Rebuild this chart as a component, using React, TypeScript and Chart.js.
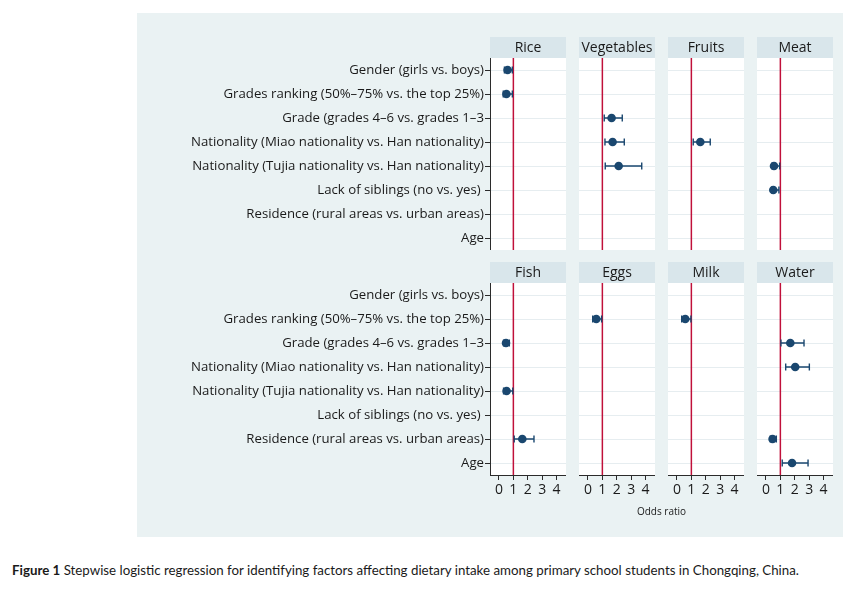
import React, { useEffect, useRef } from 'react';
import { Chart, registerables } from 'chart.js';

Chart.register(...registerables);

// ---------- data ----------
const FACTORS = [
  'Gender (girls vs. boys)',
  'Grades ranking (50%\u201375% vs. the top 25%)',
  'Grade (grades 4\u20136 vs. grades 1\u20133',
  'Nationality (Miao nationality vs. Han nationality)',
  'Nationality (Tujia nationality vs. Han nationality)',
  'Lack of siblings (no vs. yes) ',
  'Residence (rural areas vs. urban areas)',
  'Age',
];
const TOP_FOODS = ['Rice', 'Vegetables', 'Fruits', 'Meat'];
const BOTTOM_FOODS = ['Fish', 'Eggs', 'Milk', 'Water'];
const X_TICKS = [0, 1, 2, 3, 4];
const REF_OR = 1;
const X_MIN = -0.62;
const X_MAX = 4.65;
const N = null;

const RICE_OR = [0.6, 0.52, N, N, N, N, N, N];
const RICE_LO = [0.38, 0.3, N, N, N, N, N, N];
const RICE_HI = [0.93, 0.93, N, N, N, N, N, N];

const VEG_OR = [N, N, 1.64, 1.71, 2.13, N, N, N];
const VEG_LO = [N, N, 1.13, 1.18, 1.2, N, N, N];
const VEG_HI = [N, N, 2.38, 2.52, 3.73, N, N, N];

const FRUIT_OR = [N, N, N, 1.62, N, N, N, N];
const FRUIT_LO = [N, N, N, 1.13, N, N, N, N];
const FRUIT_HI = [N, N, N, 2.31, N, N, N, N];

const MEAT_OR = [N, N, N, N, 0.56, 0.51, N, N];
const MEAT_LO = [N, N, N, N, 0.42, 0.4, N, N];
const MEAT_HI = [N, N, N, N, 0.95, 0.9, N, N];

const FISH_OR = [N, N, 0.49, N, 0.53, N, 1.62, N];
const FISH_LO = [N, N, 0.32, N, 0.32, N, 1.06, N];
const FISH_HI = [N, N, 0.72, N, 0.96, N, 2.43, N];

const EGG_OR = [N, 0.58, N, N, N, N, N, N];
const EGG_LO = [N, 0.33, N, N, N, N, N, N];
const EGG_HI = [N, 0.95, N, N, N, N, N, N];

const MILK_OR = [N, 0.58, N, N, N, N, N, N];
const MILK_LO = [N, 0.33, N, N, N, N, N, N];
const MILK_HI = [N, 0.97, N, N, N, N, N, N];

const WATER_OR = [N, N, 1.69, 2.03, N, N, 0.46, 1.81];
const WATER_LO = [N, N, 1.04, 1.37, N, N, 0.3, 1.13];
const WATER_HI = [N, N, 2.64, 3.01, N, N, 0.72, 2.92];

const TOP_SERIES = [
  [RICE_OR, RICE_LO, RICE_HI],
  [VEG_OR, VEG_LO, VEG_HI],
  [FRUIT_OR, FRUIT_LO, FRUIT_HI],
  [MEAT_OR, MEAT_LO, MEAT_HI],
];
const BOTTOM_SERIES = [
  [FISH_OR, FISH_LO, FISH_HI],
  [EGG_OR, EGG_LO, EGG_HI],
  [MILK_OR, MILK_LO, MILK_HI],
  [WATER_OR, WATER_LO, WATER_HI],
];

// ---------- styles ----------
const FONT = '"Open Sans", "DejaVu Sans", sans-serif';
const NAVY = '#1a476f';
const RED = '#c0103a';
const STRIP = '#d9e6eb';
const PAGE_BG = '#eaf2f3';
const GRID = '#e6edf0';
const AXIS = '#2b2b2b';
const TEXT = '#1a1a1a';

const PANEL_LEFTS = [490, 579, 668, 757];
const PANEL_W = 76;
const STRIP_H = 21;
const PLOT_H = 192;
const LABEL_LEFT = 140;
const X_AXIS_H = 30;

const headerPlugin = {
  id: 'facetHeader',
  beforeDraw(chart: any, _args: any, opts: any) {
    const { ctx, chartArea } = chart;
    const w = chartArea.right - chartArea.left;
    ctx.save();
    ctx.fillStyle = STRIP;
    ctx.fillRect(chartArea.left, chartArea.top - STRIP_H, w, STRIP_H);
    ctx.fillStyle = '#ffffff';
    ctx.fillRect(chartArea.left, chartArea.top, w, chartArea.bottom - chartArea.top);
    ctx.fillStyle = TEXT;
    ctx.font = `14px ${FONT}`;
    ctx.textAlign = 'center';
    ctx.textBaseline = 'middle';
    ctx.fillText(opts.text, chartArea.left + w / 2, chartArea.top - STRIP_H / 2 + 0.5);
    ctx.restore();
  },
};

const refAndErrPlugin = {
  id: 'refAndErr',
  beforeDatasetsDraw(chart: any) {
    const { ctx, chartArea, scales } = chart;
    const xs = scales.x;
    ctx.save();
    const rx = xs.getPixelForValue(REF_OR);
    ctx.strokeStyle = RED;
    ctx.lineWidth = 1.5;
    ctx.beginPath();
    ctx.moveTo(rx, chartArea.top);
    ctx.lineTo(rx, chartArea.bottom);
    ctx.stroke();

    const meta = chart.getDatasetMeta(0);
    const data = chart.data.datasets[0].data as any[];
    ctx.strokeStyle = NAVY;
    ctx.lineWidth = 1.4;
    data.forEach((d, i) => {
      const el = meta.data[i];
      if (!el) return;
      const y = el.y;
      const x0 = xs.getPixelForValue(d.lo);
      const x1 = xs.getPixelForValue(d.hi);
      ctx.beginPath();
      ctx.moveTo(x0, y);
      ctx.lineTo(x1, y);
      ctx.moveTo(x0, y - 3.5);
      ctx.lineTo(x0, y + 3.5);
      ctx.moveTo(x1, y - 3.5);
      ctx.lineTo(x1, y + 3.5);
      ctx.stroke();
    });
    ctx.restore();
  },
};

type PanelProps = {
  title: string;
  series: (number | null)[][];
  left: number;
  top: number;
  showLabels: boolean;
  showX: boolean;
};

function Panel({ title, series, left, top, showLabels, showX }: PanelProps) {
  const ref = useRef<HTMLCanvasElement>(null);
  const labelW = showLabels ? left - LABEL_LEFT : 0;
  const canvasLeft = left - labelW;
  const width = labelW + PANEL_W;
  const axisH = showX ? X_AXIS_H : 0;
  const height = STRIP_H + PLOT_H + axisH;

  useEffect(() => {
    let chart: Chart | null = null;
    let cancelled = false;
    const [or, lo, hi] = series;
    const points = FACTORS.map((f, i) =>
      or[i] == null ? null : { x: or[i], y: f, lo: lo[i], hi: hi[i] }
    ).filter(Boolean);

    const make = () => {
      if (cancelled || !ref.current) return;
      chart = new Chart(ref.current, {
        type: 'scatter',
        data: {
          labels: FACTORS,
          datasets: [
            {
              data: points as any,
              backgroundColor: NAVY,
              borderColor: NAVY,
              borderWidth: 0,
              pointRadius: 4.3,
              pointHoverRadius: 4.3,
              clip: false,
            },
          ],
        },
        options: {
          responsive: false,
          animation: false,
          events: [],
          layout: {
            autoPadding: false,
            padding: { top: STRIP_H, left: 0, right: 0, bottom: 0 },
          },
          plugins: {
            legend: { display: false },
            tooltip: { enabled: false },
            title: { display: false },
            facetHeader: { text: title },
          } as any,
          scales: {
            x: {
              type: 'linear',
              min: X_MIN,
              max: X_MAX,
              display: showX,
              afterBuildTicks: (s: any) => {
                s.ticks = X_TICKS.map((v) => ({ value: v }));
              },
              afterFit: (s: any) => {
                s.height = axisH;
              },
              grid: {
                drawOnChartArea: false,
                drawTicks: true,
                tickLength: 5,
                tickColor: AXIS,
              },
              border: { display: true, color: AXIS, width: 1 },
              ticks: {
                font: { family: FONT, size: 14 },
                color: TEXT,
                padding: 2,
                maxRotation: 0,
                autoSkip: false,
              },
            },
            y: {
              type: 'category',
              labels: FACTORS,
              offset: true,
              display: true,
              afterFit: (s: any) => {
                s.width = labelW;
                s.paddingTop = 0;
                s.paddingBottom = 0;
              },
              grid: {
                color: GRID,
                lineWidth: 1,
                offset: false,
                drawTicks: showLabels,
                tickLength: 5,
                tickColor: AXIS,
              },
              border: { display: showLabels, color: AXIS, width: 1 },
              ticks: {
                display: showLabels,
                font: { family: FONT, size: 13.2 },
                color: TEXT,
                padding: 1,
                autoSkip: false,
              },
            },
          },
        } as any,
        plugins: [headerPlugin, refAndErrPlugin],
      });
    };

    if ((document as any).fonts && (document as any).fonts.load) {
      (document as any).fonts
        .load(`14px "Open Sans"`)
        .then(make, make);
    } else {
      make();
    }
    return () => {
      cancelled = true;
      if (chart) chart.destroy();
    };
  }, [title, series, labelW, showX, showLabels, axisH]);

  return (
    <canvas
      ref={ref}
      width={width}
      height={height}
      style={{ position: 'absolute', left: canvasLeft, top, width, height }}
    />
  );
}

export default function App() {
  return (
    <div
      style={{
        position: 'absolute',
        left: 0,
        top: 0,
        width: 866,
        height: 594,
        background: '#ffffff',
        overflow: 'hidden',
      }}
    >
      <div
        style={{
          position: 'absolute',
          left: 137,
          top: 13,
          width: 706,
          height: 524,
          background: PAGE_BG,
        }}
      />
      {TOP_FOODS.map((f, i) => (
        <Panel
          key={f}
          title={f}
          series={TOP_SERIES[i]}
          left={PANEL_LEFTS[i]}
          top={37}
          showLabels={i === 0}
          showX={false}
        />
      ))}
      {BOTTOM_FOODS.map((f, i) => (
        <Panel
          key={f}
          title={f}
          series={BOTTOM_SERIES[i]}
          left={PANEL_LEFTS[i]}
          top={262}
          showLabels={i === 0}
          showX={true}
        />
      ))}
      <div
        style={{
          position: 'absolute',
          left: 490,
          width: 343,
          top: 504,
          textAlign: 'center',
          fontFamily: FONT,
          fontSize: 10,
          color: TEXT,
          lineHeight: '14px',
        }}
      >
        Odds ratio
      </div>
      <div
        style={{
          position: 'absolute',
          left: 12,
          top: 562,
          fontFamily: 'Lato, "Open Sans", sans-serif',
          fontSize: 13.3,
          color: TEXT,
          whiteSpace: 'nowrap',
          lineHeight: '16px',
        }}
      >
        <b>Figure 1</b> Stepwise logistic regression for identifying factors affecting dietary intake among primary
        school students in Chongqing, China.
      </div>
    </div>
  );
}
